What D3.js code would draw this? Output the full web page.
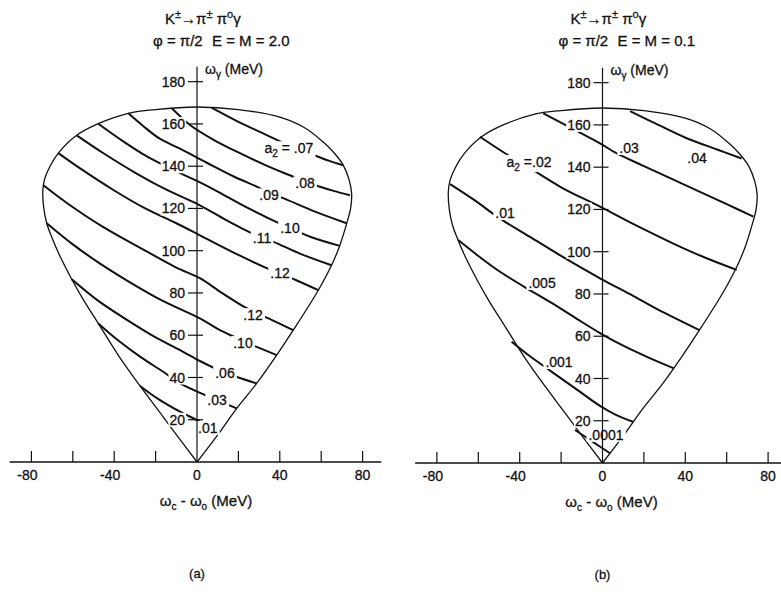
<!DOCTYPE html>
<html lang="en">
<head>
<meta charset="UTF-8">
<title>K± → π± π° γ  a2 contours</title>
<script src="https://d3js.org/d3.v7.min.js"></script>
<style>
  body { margin: 0; background: #fff; }
  text { font-family: "Liberation Sans", Arial, sans-serif; fill: #111; stroke: #111; stroke-width: 0.3px; }
</style>
</head>
<body>
<script>
// Dalitz boundary, (omega_c - omega_0, omega_gamma) in MeV
var boundary = [
  [0,0],[-11,14.3],[-19.5,25.5],[-27.5,36],[-38,50.5],[-47.7,65.6],[-55,77],[-60.5,86.5],
  [-66,97],[-70,106],[-72.6,113],[-74,120],[-74.5,128],[-73.6,134],[-71,140],[-67,146.2],
  [-58.1,154.6],[-47.7,160.1],[-33.2,165],[-20,166.8],[0,168],[20,166.8],[40,163.2],
  [52,158.2],[61,151.4],[66.5,146],[70.7,140.4],[73.5,133.5],[74.7,127],[74.2,120],
  [72.3,112.8],[69,102.5],[65,93.1],[58.6,81.3],[46.5,62.4],[38.5,50.6],[28.8,37.2],
  [19.2,25.4],[11.1,14.3],[0,0]
];

var xTicks = [-80, -60, -40, -20, 20, 40, 60, 80];
var xTickLabels = [-80, -40, 0, 40, 80];
var yTicks = [20, 40, 60, 80, 100, 120, 140, 160, 180];

// (a)  E = M = 2.0
var levelsA = [".07", ".08", ".09", ".10", ".11", ".12", ".12", ".10", ".06", ".03", ".01"];
var contoursA = [
  [[7,167.7],[20,161],[32,155.5],[44,150],[56,145.4],[64,142.5],[70.7,140.4]],
  [[-12.2,167.4],[-8,163.5],[-3.4,159.5],[8,152.5],[20,146.5],[33,140.5],[46.5,135],[52,132.7],[58.6,130.5],[66,128.3],[73.9,126.2]],
  [[-33.2,165],[-26,159],[-18,153],[-8.2,148.3],[5,141.5],[18,135],[29.6,130],[35,127.3],[42.5,124.5],[57,118.5],[72.3,113]],
  [[-47.7,160.1],[-36,152],[-24,144.5],[-12,138.5],[0,133],[10,128],[25,120],[40.1,112.8],[45,110.8],[55,106.5],[69,102.3]],
  [[-58.1,154.6],[-45,146],[-30,137],[-15,129],[1.4,121.5],[15,114],[28,107.5],[31.4,106],[36.9,104.2],[50,98.5],[65,93.1]],
  [[-67,146.2],[-55,138],[-40,128.5],[-25,120],[-10,113],[1.4,107.3],[20,98],[35,91.2],[40.1,89.2],[48,86],[58.6,81.3]],
  [[-74.2,131],[-62,122],[-45,111],[-25,100],[-10,92],[1.4,87],[12,80],[22.4,73.6],[27.1,71.2],[32.9,68.7],[46.5,62.4]],
  [[-72.6,113],[-60,103],[-47,94],[-34,86],[-17,76.5],[1.4,68],[10,63],[18.4,59],[22.2,57.3],[28.8,54.5],[38.5,50.6]],
  [[-60.5,86.5],[-48,76.5],[-35,68],[-20,59],[-8.2,53],[1.4,47.8],[7.9,44.7],[13.5,42.3],[20,40],[28.8,37.2]],
  [[-47.7,65.6],[-38,57.5],[-27,49.5],[-16.3,42.7],[-8.2,37.2],[3.9,31.7],[9.7,29.3],[15.1,27],[19.2,25.4]],
  [[-27.5,36],[-19,30],[-8.2,23.8],[0,19.8],[3.9,17.8],[8,15.8],[11.1,14.3]]
];
var labelPosA = [[44.4,148.5],[52.2,131.9],[34.8,126.2],[44.9,110.6],[31.4,105.9],[40.1,89.4],
                 [27.1,69.5],[22.2,56.3],[13.5,42.1],[9.7,29.3],[5.2,16.1]];

// (b)  E = M = 0.1
var levelsB = [".04", ".03", ".02", ".01", ".005", ".001", ".0001"];
var contoursB = [
  [[13.3,166.5],[27,160],[40.7,153.7],[55,148.5],[67.2,144.1]],
  [[-28.6,165.5],[-15,158.5],[-1.2,151.3],[6,147],[20,140.5],[40,131.5],[60,122.5],[72.9,116.6]],
  [[-59.2,154.4],[-47.1,146.6],[-35,139.5],[-20,130.5],[-1.2,121.3],[15,113],[35,103.5],[50,97],[64.8,91.4]],
  [[-73.6,132],[-62,124.5],[-50,116],[-35,107],[-20,98],[-1.2,87.4],[15,79],[30,71],[46.8,62.9]],
  [[-69.7,105.5],[-60,98],[-49.5,90.5],[-38,83.5],[-25,76],[-12,68],[-1.2,61.5],[10,55.5],[22,50],[34.5,44.8]],
  [[-43.9,57.4],[-35,50.5],[-25,43.5],[-12,34.5],[-1.2,27],[6,23],[14.7,19.5]],
  [[-13.3,15.6],[-6,10.9],[0,7],[3.6,4.6]]
];
var labelPosB = [[45.7,144.3],[12.8,149.1],[-35.5,142.5],[-47.1,118.3],[-29.2,85.2],[-21,47.8],[1.7,13.3]];

var W = 781, H = 608;
var svg = d3.select("body").append("svg").attr("width", W).attr("height", H);

var pxPerX = 2.07, pxPerY = 2.113;

function sub(t, s) {
  t.append("tspan").attr("font-size", 10).attr("dy", 4).text(s);
}

function drawPanel(ox, oy, contours, levels, labelPos, firstLabel, eText, caption) {
  var g = svg.append("g");
  var x = d3.scaleLinear().domain([-80, 80]).range([ox - 80 * pxPerX, ox + 80 * pxPerX]);
  var y = d3.scaleLinear().domain([0, 180]).range([oy, oy - 180 * pxPerY]);

  var line = d3.line()
      .x(function(d) { return x(d[0]); })
      .y(function(d) { return y(d[1]); })
      .curve(d3.curveCatmullRom.alpha(0.5));

  // boundary
  g.append("path")
      .datum(boundary)
      .attr("d", line)
      .attr("fill", "none")
      .attr("stroke", "#111")
      .attr("stroke-width", 1.3);

  // contour lines
  g.append("g").selectAll("path")
      .data(contours)
      .enter().append("path")
      .attr("d", line)
      .attr("fill", "none")
      .attr("stroke", "#111")
      .attr("stroke-width", 2);

  // contour labels, white box behind makes the gap in the line
  var lab = g.append("g");
  levels.forEach(function(lv, i) {
    var t = lab.append("text")
        .attr("x", x(labelPos[i][0]))
        .attr("y", y(labelPos[i][1]))
        .attr("dy", "0.36em")
        .attr("text-anchor", "middle")
        .attr("font-size", 14);
    if (i === firstLabel) {
      t.append("tspan").text("a");
      sub(t, "2");
      t.append("tspan").attr("dy", -4).text(" =" + (firstLabel === 0 ? " " : "") + lv);
    } else {
      t.text(lv);
    }
    var b = t.node().getBBox();
    lab.insert("rect", "text")
        .attr("x", b.x - 2).attr("y", b.y + 1)
        .attr("width", b.width + 4).attr("height", b.height - 2)
        .attr("fill", "#fff");
  });

  // x axis
  g.append("line")
      .attr("x1", x(-90.5)).attr("x2", x(89))
      .attr("y1", oy).attr("y2", oy)
      .attr("stroke", "#111").attr("stroke-width", 1.3);
  g.append("g").selectAll("line")
      .data(xTicks)
      .enter().append("line")
      .attr("x1", function(d) { return x(d); }).attr("x2", function(d) { return x(d); })
      .attr("y1", oy).attr("y2", oy - 11)
      .attr("stroke", "#111").attr("stroke-width", 1.2);
  g.append("g").selectAll("text")
      .data(xTickLabels)
      .enter().append("text")
      .attr("x", function(d) { return x(d) + (d < 0 ? -4 : 0); })
      .attr("y", oy + 18)
      .attr("text-anchor", "middle")
      .attr("font-size", 14)
      .text(function(d) { return d < 0 ? "-" + Math.abs(d) : d; });

  // y axis
  g.append("line")
      .attr("x1", ox).attr("x2", ox)
      .attr("y1", oy).attr("y2", y(187))
      .attr("stroke", "#111").attr("stroke-width", 1.2);
  var yl = g.append("g");
  yTicks.forEach(function(d) {
    var t = yl.append("text")
        .attr("x", ox - 12)
        .attr("y", y(d))
        .attr("dy", "0.36em")
        .attr("text-anchor", "end")
        .attr("font-size", 14)
        .text(d);
    var b = t.node().getBBox();
    yl.insert("rect", "text")
        .attr("x", b.x - 1).attr("y", b.y + 1)
        .attr("width", b.width + 2).attr("height", b.height - 2)
        .attr("fill", "#fff");
    yl.append("line")
        .attr("x1", ox - 9).attr("x2", ox + 6)
        .attr("y1", y(d)).attr("y2", y(d))
        .attr("stroke", "#111").attr("stroke-width", 1.2);
  });

  // omega_gamma label
  var wg = g.append("text").attr("x", ox + 8).attr("y", y(187) + 7).attr("font-size", 14);
  wg.append("tspan").text("ω");
  sub(wg, "γ");
  wg.append("tspan").attr("dy", -4).text(" (MeV)");

  // x axis title
  var wx = g.append("text").attr("x", ox + 9).attr("y", oy + 44)
      .attr("text-anchor", "middle").attr("font-size", 15);
  wx.append("tspan").text("ω");
  sub(wx, "c");
  wx.append("tspan").attr("dy", -4).text(" - ω");
  sub(wx, "o");
  wx.append("tspan").attr("dy", -4).text("  (MeV)");

  // title
  var t1 = g.append("text").attr("x", ox - 32).attr("y", 24).attr("font-size", 15);
  t1.append("tspan").text("K");
  t1.append("tspan").attr("font-size", 11).attr("dy", -6).text("±");
  t1.append("tspan").attr("dy", 6).text("→π");
  t1.append("tspan").attr("font-size", 11).attr("dy", -6).text("±");
  t1.append("tspan").attr("dy", 6).text(" π");
  t1.append("tspan").attr("font-size", 11).attr("dy", -6).text("o");
  t1.append("tspan").attr("dy", 6).text("γ");

  g.append("text").attr("x", ox - 44).attr("y", 46).attr("font-size", 15).text("φ = π/2");
  g.append("text").attr("x", ox + 15).attr("y", 46).attr("font-size", 15).text(eText);

  g.append("text").attr("x", ox).attr("y", oy + 116)
      .attr("text-anchor", "middle").attr("font-size", 13).text(caption);
}

drawPanel(197, 462, contoursA, levelsA, labelPosA, 0, "E = M = 2.0", "(a)");
drawPanel(602.5, 463, contoursB, levelsB, labelPosB, 2, "E = M = 0.1", "(b)");
</script>
</body>
</html>
